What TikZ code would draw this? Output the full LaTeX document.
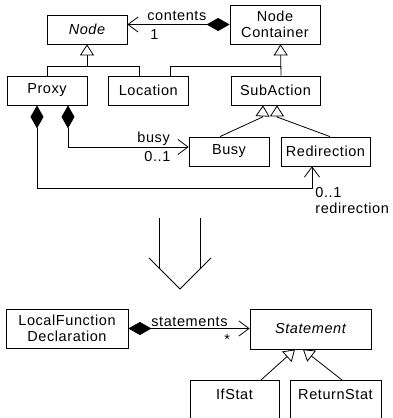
\documentclass[tikz,border=0pt]{standalone}
\usepackage{fontspec}
\setmainfont{Liberation Sans}[LetterSpace=4]
\usetikzlibrary{arrows.meta}

\begin{document}
\begin{tikzpicture}[
      x = 1pt, y = -1pt, line width = 0.8pt,
      font = \fontsize{14.5}{16}\selectfont,
      Class/.style = {draw, rectangle, inner sep = 0pt, align = center, minimum height = 29pt},
      Open/.style = {draw, rectangle, anchor = north, inner sep = 3pt, text height = 16pt, text depth = 30pt},
      Generalize/.style = {draw, -{Triangle[open, length = 11pt, width = 14pt]}},
      Compose/.style = {draw, {Diamond[length = 23pt, width = 13pt]}-{Straight Barb[length = 10pt, width = 15pt]}},
      Role/.style = {inner sep = 0pt, anchor = base west}
    ]
    \useasboundingbox (0,0) rectangle (393,418);
    \clip (0,0) rectangle (393,418);

    \node at (87,29.5) [Class, minimum width = 80pt](N){\itshape Node};
    \node at (275,24.5) [Class, minimum width = 90pt, minimum height = 39pt](NC){Node\\Container};
    \node at (47,90.5) [Class, minimum width = 80pt](P){Proxy};
    \node at (148.3,90.5) [Class, minimum width = 80pt](L){Location};
    \node at (275.5,90.5) [Class, minimum width = 89pt](S){SubAction};
    \node at (229,151.5) [Class, minimum width = 80pt](B){Busy};
    \node at (325.5,151.5) [Class, minimum width = 89pt](R){Redirection};

    \node at (67,328.5) [Class, minimum width = 122pt, minimum height = 39pt](LF){LocalFunction\\Declaration};
    \node at (310.5,329) [Class, minimum width = 121pt, minimum height = 40pt](St){\itshape Statement};
    \node at (234.5,380) [Open, minimum width = 89pt](I){IfStat};
    \node at (335.5,380) [Open, minimum width = 91pt](Ret){ReturnStat};

    % generalizations
    \coordinate (nj) at (87,66.5);
    \draw [Generalize] (nj) -- (N.south);
    \draw (P.north) |- (nj);
    \draw ([xshift=-9pt]L.north) |- (nj);
    \draw [Generalize] ([xshift=5.5pt]S.north) -- ([xshift=5.5pt]NC.south);
    \draw ([xshift=22pt]L.north) |- ([xshift=5.5pt]S.north |- nj);
    \draw [Generalize] ([xshift=-9pt]B.north) -- (262.5,117) -- ([xshift=-12.5pt]S.south);
    \draw [Generalize] ([xshift=4.5pt]R.north) -- (277,117) -- ([xshift=1.5pt]S.south);
    \draw [Generalize] ([xshift=26.5pt]I.north) -- ([xshift=-15.5pt]St.south);
    \draw [Generalize] ([xshift=6.5pt]Ret.north) -- ([xshift=-7.5pt]St.south);

    % associations
    \path [Compose] (NC.west) -- (NC.west -| N.east);
    \path [Compose] ([xshift=21pt]P.south) |- ([yshift=4.5pt]B.west);
    \path [Compose] ([xshift=-10pt]P.south) |- (312,188) -- ([xshift=-13.5pt]R.south);
    \path [Compose] (LF.east) -- (LF.east -| St.west);

    \node[Role] at (147,20) {contents};
    \node[Role] at (150,39) {1};
    \node[Role] at (137,142) {busy};
    \node[Role] at (144,161) {0..1};
    \node[Role] at (315,197) {0..1};
    \node[Role] at (315,213) {redirection};
    \node[Role] at (151,326) {statements};
    \node[Role] at (224,344) {*};

    % mapping arrow
    \draw (159,218) -- (159,268);
    \draw (200,218) -- (200,269);
    \draw (149,258) -- (180,289) -- (211,258);
  \end{tikzpicture}
\end{document}
